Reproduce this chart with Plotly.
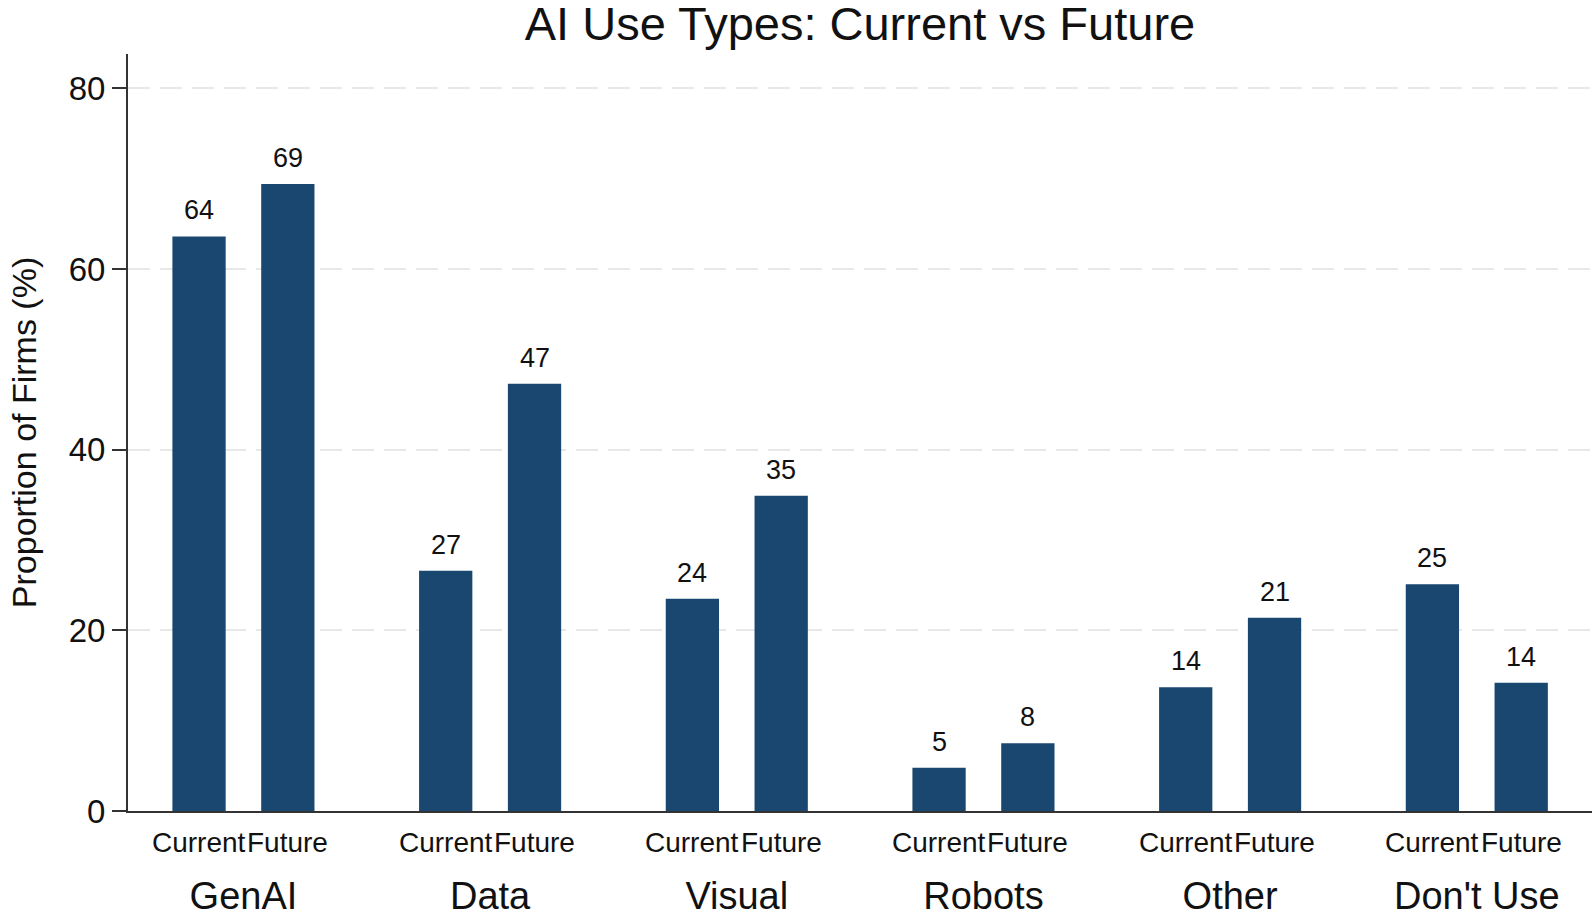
import plotly.graph_objects as go

categories = ["GenAI", "Data", "Visual", "Robots", "Other", "Don't Use"]
current = [63.6, 26.6, 23.5, 4.8, 13.7, 25.1]
future = [69.4, 47.3, 34.9, 7.5, 21.4, 14.2]
series_names = ["Current", "Future"]
y_ticks = [0, 20, 40, 60, 80]

BAR_COLOR = "#1a476f"
FONT = "Liberation Sans, Arial, sans-serif"
OFFSET = 0.18  # half distance between the two bars of a group (category units)

fig = go.Figure()
for name, vals in zip(series_names, [current, future]):
    fig.add_trace(
        go.Bar(
            x=categories,
            y=vals,
            name=name,
            marker_color=BAR_COLOR,
            marker_line_width=0,
            hoverinfo="x+y+name",
        )
    )

annotations = []
for i, cat in enumerate(categories):
    for sign, name, vals in [(-1, "Current", current), (1, "Future", future)]:
        xpos = i + sign * OFFSET
        # value label above bar
        annotations.append(
            dict(
                x=xpos, y=vals[i], xref="x", yref="y",
                text=f"{vals[i]:.0f}", showarrow=False,
                yanchor="bottom", yshift=9,
                font=dict(family=FONT, size=27, color="#111111"),
            )
        )
        # sub-category label under the axis
        annotations.append(
            dict(
                x=xpos, y=0, xref="x", yref="y",
                text=name, showarrow=False,
                yanchor="middle", yshift=-31,
                font=dict(family=FONT, size=28, color="#111111"),
            )
        )

fig.update_layout(
    barmode="group",
    bargap=0.28,
    bargroupgap=0.4,
    width=1595,
    height=918,
    showlegend=False,
    plot_bgcolor="white",
    paper_bgcolor="white",
    margin={"l": 128, "r": 3, "t": 54, "b": 107},
    title=dict(
        text="AI Use Types: Current vs Future",
        x=0.5, xanchor="center", xref="paper",
        y=0.974, yanchor="middle", yref="container",
        font=dict(family=FONT, size=47, color="#111111"),
    ),
    annotations=annotations,
)

fig.update_xaxes(
    range=[-0.468, 5.467],
    automargin=False,
    showline=True, linecolor="#333333", linewidth=2,
    showgrid=False, ticks="",
    ticklabelstandoff=50,
    tickfont=dict(family=FONT, size=38, color="#111111"),
)
fig.update_yaxes(
    range=[0, 83.8],
    automargin=False,
    tickvals=y_ticks,
    showline=True, linecolor="#333333", linewidth=2,
    ticks="outside", ticklen=14, tickwidth=2, tickcolor="#333333",
    showgrid=True, gridcolor="#e8e8e8", gridwidth=2, griddash="22px,10px",
    zeroline=False,
    tickfont=dict(family=FONT, size=33, color="#111111"),
    title=dict(
        text="Proportion of Firms (%)", standoff=22,
        font=dict(family=FONT, size=34, color="#111111"),
    ),
)

# drop the browser's default body margin so the figure sits at the page corner
fig.write_html(
    "out.html",
    config={"displayModeBar": False},
    post_script="document.body.style.margin='0';",
)
